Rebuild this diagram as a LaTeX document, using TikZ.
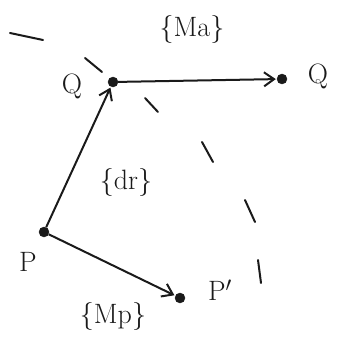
\documentclass[tikz,border=0pt]{standalone}
\usepackage{tikz}
\usetikzlibrary{positioning, arrows.meta}
\definecolor{sketchink}{HTML}{1a1a1a}

\begin{document}
\begin{tikzpicture}[x=1pt, y=-1pt, font=\fontsize{28}{32}\selectfont,
 pt/.style={circle, fill=sketchink, draw=sketchink, inner sep=0pt, minimum size=10pt},
 vec/.style={-{Straight Barb[length=10pt, width=14pt]}, line width=2pt, sketchink, shorten >=1pt},
 trace/.style={line width=2pt, sketchink, line cap=round},
 lbl/.style={text=sketchink, inner sep=1pt}]
\useasboundingbox (0,0) rectangle (347,342);

\node[pt] (Q) at (113,82) {};
\node[pt] (Q2) at (282,79) {};
\node[pt] (P) at (44,232) {};
\node[pt] (P2) at (180,298) {};

\node[lbl] (lQ) at (72,86) {Q};
\node[lbl] (lQ2) at (318,76) {Q};
\node[lbl] (lP) at (28,262) {P};
\node[lbl] (lP2) at (220,290) {P$'$};

\node[lbl] (lMa) at (192,30) {\{Ma\}};
\node[lbl] (ldr) at (126,182) {\{dr\}};
\node[lbl] (lMp) at (113,316) {\{Mp\}};

\draw[vec] (P) -- (Q);
\draw[vec] (Q) -- (Q2);
\draw[vec] (P) -- (P2);

% dashed sweep
\foreach \a/\b/\c/\d in {10/33/43/40, 85/58/102/72, 145/98/158/112,
  202/142/213/162, 245/200/255/222, 258/260/261/283}
  {\draw[trace] (\a,\b) -- (\c,\d);}

\end{tikzpicture}
\end{document}
